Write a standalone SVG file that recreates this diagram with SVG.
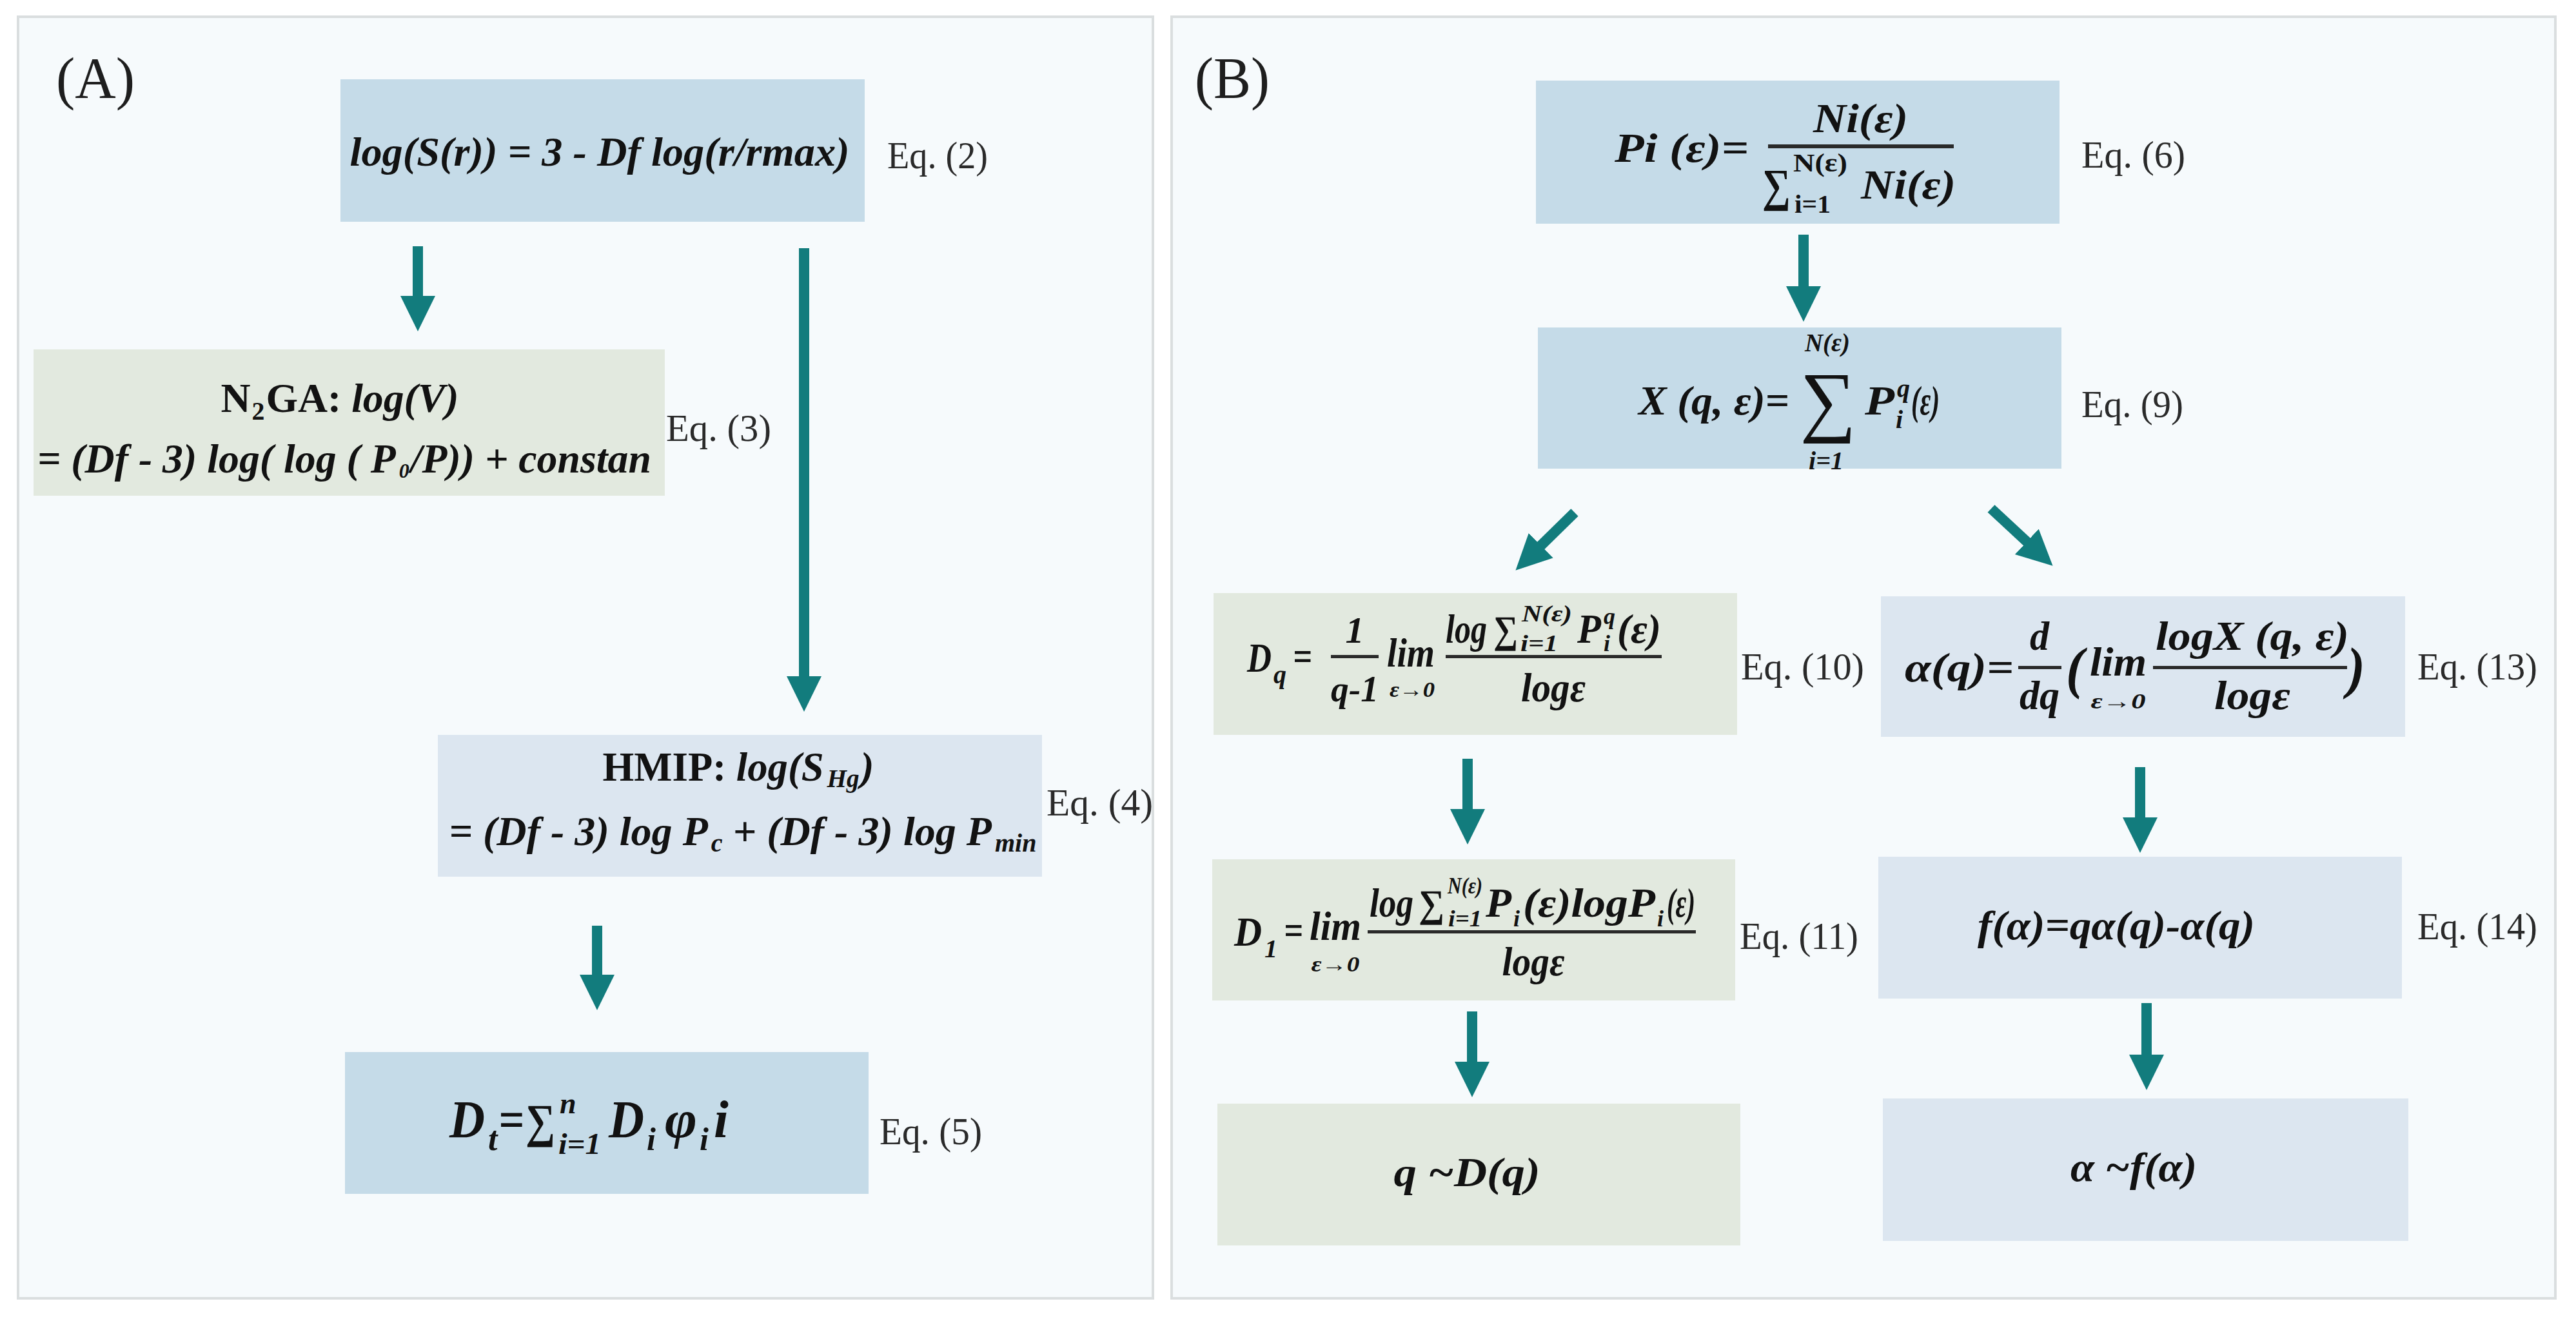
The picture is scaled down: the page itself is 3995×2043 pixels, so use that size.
<svg xmlns="http://www.w3.org/2000/svg" width="3995" height="2043" viewBox="0 0 3995 2043">
<defs>
<style>
text{font-family:'Liberation Serif','Times New Roman',serif;fill:#121212}
.bi{font-weight:bold;font-style:italic}
.b{font-weight:bold;font-style:normal}
.m{font-size:64px}
.s{font-size:40px}
.eq{font-size:60px;font-weight:normal;font-style:normal;fill:#2a2a2a}
.lbl{font-size:90px;font-weight:normal;fill:#1e1e1e}
.panel{fill:#f6fafc;stroke:#dadedf;stroke-width:4}
.blue{fill:#c5dbe8}
.green{fill:#e2e9df}
.lav{fill:#dce6f0}
.bar{fill:#2a2a2a}
.ar{stroke:#127c7d;stroke-width:16;fill:none}
</style>
<marker id="ah" viewBox="0 -30 60 60" markerUnits="userSpaceOnUse" markerWidth="60" markerHeight="60" refX="1" refY="0" orient="auto">
<path d="M0,-27 L55,0 L0,27 Z" fill="#127c7d"/>
</marker>
</defs>
<rect width="3995" height="2043" fill="#ffffff"/>
<rect class="panel" x="28" y="26" width="1760" height="1988"/>
<rect class="panel" x="1817" y="26" width="2146" height="1988"/>
<text class="lbl" x="87" y="152" textLength="122" lengthAdjust="spacingAndGlyphs">(A)</text>
<text class="lbl" x="1853" y="152" textLength="116" lengthAdjust="spacingAndGlyphs">(B)</text>

<g id="connectors">
<line class="ar" x1="648" y1="382" x2="648" y2="460" marker-end="url(#ah)"/>
<line class="ar" x1="1247" y1="385" x2="1247" y2="1050" marker-end="url(#ah)"/>
<line class="ar" x1="926" y1="1436" x2="926" y2="1513" marker-end="url(#ah)"/>
<line class="ar" x1="2797" y1="364" x2="2797" y2="445" marker-end="url(#ah)"/>
<line class="ar" x1="2442" y1="795" x2="2389" y2="847" marker-end="url(#ah)"/>
<line class="ar" x1="3088" y1="789" x2="3144" y2="841" marker-end="url(#ah)"/>
<line class="ar" x1="2276" y1="1177" x2="2276" y2="1256" marker-end="url(#ah)"/>
<line class="ar" x1="3319" y1="1190" x2="3319" y2="1269" marker-end="url(#ah)"/>
<line class="ar" x1="2283" y1="1569" x2="2283" y2="1648" marker-end="url(#ah)"/>
<line class="ar" x1="3329" y1="1556" x2="3329" y2="1637" marker-end="url(#ah)"/>
</g>

<g id="eq2">
<rect class="blue" x="528" y="123" width="813" height="221"/>
<text class="bi m" x="930" y="257" text-anchor="middle" textLength="775" lengthAdjust="spacingAndGlyphs">log(S(r)) = 3 - Df log(r/rmax)</text>
<text class="eq" x="1376" y="261" textLength="156" lengthAdjust="spacingAndGlyphs">Eq. (2)</text>
</g>

<g id="eq3">
<rect class="green" x="52" y="542" width="979" height="227"/>
<text class="m" x="527" y="639" text-anchor="middle" textLength="369" lengthAdjust="spacingAndGlyphs"><tspan class="b">N</tspan><tspan class="b" font-size="40" dx="2" dy="12">2</tspan><tspan class="b" dx="2" dy="-12">GA: </tspan><tspan class="bi">log(V)</tspan></text>
<text class="bi m" x="534" y="733" text-anchor="middle" textLength="952" lengthAdjust="spacingAndGlyphs">= (Df - 3) log( log ( P<tspan font-size="32" dx="5" dy="8">0</tspan><tspan dx="2" dy="-8">/P)) + constan</tspan></text>
<text class="eq" x="1033" y="684" textLength="163" lengthAdjust="spacingAndGlyphs">Eq. (3)</text>
</g>

<g id="eq4">
<rect class="lav" x="679" y="1140" width="937" height="220"/>
<text class="m" x="1145" y="1211" text-anchor="middle" textLength="421" lengthAdjust="spacingAndGlyphs"><tspan class="b">HMIP: </tspan><tspan class="bi">log(S</tspan><tspan class="bi" font-size="40" dx="5" dy="10">Hg</tspan><tspan class="bi" dx="2" dy="-10">)</tspan></text>
<text class="bi m" x="1152" y="1311" text-anchor="middle" textLength="911" lengthAdjust="spacingAndGlyphs">= (Df - 3) log P<tspan font-size="40" dx="5" dy="10">c</tspan><tspan dy="-10"> + (Df - 3) log P</tspan><tspan font-size="40" dx="5" dy="10">min</tspan></text>
<text class="eq" x="1623" y="1265" textLength="165" lengthAdjust="spacingAndGlyphs">Eq. (4)</text>
</g>

<g id="eq5">
<rect class="blue" x="535" y="1632" width="812" height="220"/>
<text class="bi" font-size="82" x="697" y="1764" textLength="55" lengthAdjust="spacingAndGlyphs">D</text>
<text class="bi" font-size="52" x="757" y="1784">t</text>
<text class="bi" font-size="80" x="773" y="1764" textLength="40" lengthAdjust="spacingAndGlyphs">=</text>
<text class="bi" font-size="74" x="815" y="1764" textLength="46" lengthAdjust="spacingAndGlyphs">∑</text>
<text class="bi" font-size="46" x="868" y="1727">n</text>
<text class="bi" font-size="46" x="866" y="1790" textLength="66" lengthAdjust="spacingAndGlyphs">i=1</text>
<text class="bi" font-size="82" x="944" y="1764" textLength="55" lengthAdjust="spacingAndGlyphs">D</text>
<text class="bi" font-size="50" x="1003" y="1784">i</text>
<text class="bi" font-size="82" x="1031" y="1764" textLength="50" lengthAdjust="spacingAndGlyphs">φ</text>
<text class="bi" font-size="50" x="1085" y="1784">i</text>
<text class="bi" font-size="82" x="1107" y="1764">i</text>
<text class="eq" x="1364" y="1775" textLength="159" lengthAdjust="spacingAndGlyphs">Eq. (5)</text>
</g>

<g id="eq6">
<rect class="blue" x="2382" y="125" width="812" height="222"/>
<text class="bi m" x="2504" y="251" textLength="208" lengthAdjust="spacingAndGlyphs">Pi (ε)=</text>
<rect class="bar" x="2742" y="224" width="288" height="6"/>
<text class="bi m" x="2812" y="205" textLength="147" lengthAdjust="spacingAndGlyphs">Ni(ε)</text>
<text class="bi" font-size="72" x="2733" y="312" textLength="44" lengthAdjust="spacingAndGlyphs">∑</text>
<text class="b" font-size="40" x="2781" y="266" textLength="84" lengthAdjust="spacingAndGlyphs">N(ε)</text>
<text class="b" font-size="40" x="2783" y="330" textLength="56" lengthAdjust="spacingAndGlyphs">i=1</text>
<text class="bi m" x="2886" y="308" textLength="147" lengthAdjust="spacingAndGlyphs">Ni(ε)</text>
<text class="eq" x="3228" y="260" textLength="161" lengthAdjust="spacingAndGlyphs">Eq. (6)</text>
</g>

<g id="eq9">
<rect class="blue" x="2385" y="508" width="812" height="219"/>
<text class="bi m" x="2541" y="643" textLength="234" lengthAdjust="spacingAndGlyphs">X (q, ε)=</text>
<text class="bi s" x="2834" y="545" text-anchor="middle" textLength="70" lengthAdjust="spacingAndGlyphs">N(ε)</text>
<text font-size="122" x="2835" y="662" text-anchor="middle">∑</text>
<text class="bi m" x="2892" y="643" textLength="46" lengthAdjust="spacingAndGlyphs">P</text>
<text class="bi s" x="2942" y="616">q</text>
<text class="bi s" x="2940" y="664">i</text>
<text class="bi m" x="2964" y="643" textLength="44" lengthAdjust="spacingAndGlyphs">(ε)</text>
<text class="bi s" x="2832" y="728" text-anchor="middle" textLength="54" lengthAdjust="spacingAndGlyphs">i=1</text>
<text class="eq" x="3228" y="647" textLength="158" lengthAdjust="spacingAndGlyphs">Eq. (9)</text>
</g>

<g id="eq10">
<rect class="green" x="1882" y="920" width="812" height="220"/>
<text class="bi m" x="1934" y="1042" textLength="38" lengthAdjust="spacingAndGlyphs">D</text>
<text class="bi s" x="1975" y="1060">q</text>
<text class="bi m" x="2005" y="1040" textLength="30" lengthAdjust="spacingAndGlyphs">=</text>
<text class="bi" font-size="58" x="2101" y="997" text-anchor="middle">1</text>
<rect class="bar" x="2064" y="1016" width="74" height="5"/>
<text class="bi" font-size="58" x="2101" y="1088" text-anchor="middle" textLength="74" lengthAdjust="spacingAndGlyphs">q-1</text>
<text class="bi m" x="2151" y="1034" textLength="74" lengthAdjust="spacingAndGlyphs">lim</text>
<text class="bi" font-size="34" x="2190" y="1081" text-anchor="middle" textLength="70" lengthAdjust="spacingAndGlyphs">ε→0</text>
<rect class="bar" x="2242" y="1016" width="335" height="5"/>
<text class="bi m" x="2242" y="997" textLength="64" lengthAdjust="spacingAndGlyphs">log</text>
<text class="bi" font-size="60" x="2316" y="997" textLength="38" lengthAdjust="spacingAndGlyphs">∑</text>
<text class="bi" font-size="36" x="2360" y="964" textLength="78" lengthAdjust="spacingAndGlyphs">N(ε)</text>
<text class="bi" font-size="36" x="2358" y="1010" textLength="58" lengthAdjust="spacingAndGlyphs">i=1</text>
<text class="bi m" x="2446" y="997" textLength="37" lengthAdjust="spacingAndGlyphs">P</text>
<text class="bi" font-size="36" x="2487" y="968">q</text>
<text class="bi" font-size="36" x="2487" y="1010">i</text>
<text class="bi m" x="2508" y="997" textLength="68" lengthAdjust="spacingAndGlyphs">(ε)</text>
<text class="bi m" x="2409" y="1088" text-anchor="middle" textLength="100" lengthAdjust="spacingAndGlyphs">logε</text>
<text class="eq" x="2700" y="1054" textLength="191" lengthAdjust="spacingAndGlyphs">Eq. (10)</text>
</g>

<g id="eq13">
<rect class="lav" x="2917" y="925" width="813" height="218"/>
<text class="bi m" x="2954" y="1057" textLength="169" lengthAdjust="spacingAndGlyphs">α(q)=</text>
<text class="bi m" x="3163" y="1008" text-anchor="middle" textLength="30" lengthAdjust="spacingAndGlyphs">d</text>
<rect class="bar" x="3130" y="1033" width="67" height="5"/>
<text class="bi m" x="3163" y="1100" text-anchor="middle" textLength="62" lengthAdjust="spacingAndGlyphs">dq</text>
<text class="bi" font-size="88" x="3204" y="1066" textLength="28" lengthAdjust="spacingAndGlyphs">(</text>
<text class="bi m" x="3241" y="1048" textLength="88" lengthAdjust="spacingAndGlyphs">lim</text>
<text class="bi" font-size="34" x="3285" y="1099" text-anchor="middle" textLength="85" lengthAdjust="spacingAndGlyphs">ε→0</text>
<rect class="bar" x="3339" y="1033" width="301" height="5"/>
<text class="bi m" x="3493" y="1008" text-anchor="middle" textLength="300" lengthAdjust="spacingAndGlyphs">logX (q, ε)</text>
<text class="bi m" x="3493" y="1100" text-anchor="middle" textLength="118" lengthAdjust="spacingAndGlyphs">logε</text>
<text class="bi" font-size="88" x="3640" y="1066" textLength="28" lengthAdjust="spacingAndGlyphs">)</text>
<text class="eq" x="3749" y="1054" textLength="186" lengthAdjust="spacingAndGlyphs">Eq. (13)</text>
</g>

<g id="eq11">
<rect class="green" x="1880" y="1333" width="811" height="219"/>
<text class="bi m" x="1914" y="1467" textLength="43" lengthAdjust="spacingAndGlyphs">D</text>
<text class="bi s" x="1961" y="1485">1</text>
<text class="bi m" x="1991" y="1465" textLength="30" lengthAdjust="spacingAndGlyphs">=</text>
<text class="bi m" x="2031" y="1458" textLength="80" lengthAdjust="spacingAndGlyphs">lim</text>
<text class="bi" font-size="34" x="2071" y="1507" text-anchor="middle" textLength="75" lengthAdjust="spacingAndGlyphs">ε→0</text>
<rect class="bar" x="2121" y="1443" width="509" height="5"/>
<text class="bi m" x="2124" y="1422" textLength="68" lengthAdjust="spacingAndGlyphs">log</text>
<text class="bi" font-size="60" x="2200" y="1422" textLength="40" lengthAdjust="spacingAndGlyphs">∑</text>
<text class="bi" font-size="36" x="2245" y="1386" textLength="54" lengthAdjust="spacingAndGlyphs">N(ε)</text>
<text class="bi" font-size="36" x="2246" y="1437" textLength="52" lengthAdjust="spacingAndGlyphs">i=1</text>
<text class="bi m" x="2304" y="1422" textLength="40" lengthAdjust="spacingAndGlyphs">P</text>
<text class="bi" font-size="36" x="2347" y="1437">i</text>
<text class="bi m" x="2362" y="1422" textLength="205" lengthAdjust="spacingAndGlyphs">(ε)logP</text>
<text class="bi" font-size="36" x="2570" y="1437">i</text>
<text class="bi m" x="2585" y="1422" textLength="44" lengthAdjust="spacingAndGlyphs">(ε)</text>
<text class="bi m" x="2378" y="1513" text-anchor="middle" textLength="97" lengthAdjust="spacingAndGlyphs">logε</text>
<text class="eq" x="2698" y="1472" textLength="184" lengthAdjust="spacingAndGlyphs">Eq. (11)</text>
</g>

<g id="eq14">
<rect class="lav" x="2913" y="1329" width="812" height="220"/>
<text class="bi m" x="3282" y="1457" text-anchor="middle" textLength="430" lengthAdjust="spacingAndGlyphs">f(α)=qα(q)-α(q)</text>
<text class="eq" x="3749" y="1457" textLength="186" lengthAdjust="spacingAndGlyphs">Eq. (14)</text>
</g>

<g id="qdq">
<rect class="green" x="1888" y="1712" width="811" height="220"/>
<text class="bi m" x="2275" y="1840" text-anchor="middle" textLength="227" lengthAdjust="spacingAndGlyphs">q ~D(q)</text>
</g>

<g id="afa">
<rect class="lav" x="2920" y="1704" width="815" height="221"/>
<text class="bi m" x="3309" y="1832" text-anchor="middle" textLength="196" lengthAdjust="spacingAndGlyphs">α ~f(α)</text>
</g>
</svg>
